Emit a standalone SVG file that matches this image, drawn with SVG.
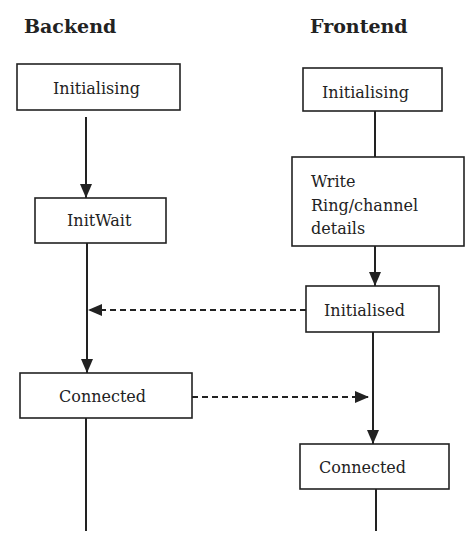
<svg xmlns="http://www.w3.org/2000/svg" width="474" height="549" viewBox="0 0 474 549">
<style>
.box{fill:#fff;stroke:#222;stroke-width:1.6}
.lbl{font-family:"DejaVu Serif","Liberation Serif",serif;font-size:16px;fill:#222}
.hdr{font-family:"DejaVu Serif","Liberation Serif",serif;font-size:19px;font-weight:bold;fill:#222}
.ln{stroke:#222;stroke-width:2;fill:none}
.dash{stroke:#222;stroke-width:2;fill:none;stroke-dasharray:6 4}
</style>
<defs>
<marker id="ah" markerUnits="userSpaceOnUse" markerWidth="14" markerHeight="14" viewBox="0 0 14 12" refX="14" refY="6" orient="auto">
<path d="M0,0 L14,6 L0,12 Z" fill="#222"/>
</marker>
</defs>
<rect width="474" height="549" fill="#fff"/>
<text class="hdr" x="24" y="33">Backend</text>
<text class="hdr" x="310" y="33">Frontend</text>
<g id="connectors">
<line class="ln" x1="86" y1="117" x2="86" y2="198" marker-end="url(#ah)"/>
<line class="ln" x1="87" y1="243" x2="87" y2="373" marker-end="url(#ah)"/>
<line class="ln" x1="375" y1="111" x2="375" y2="157"/>
<line class="ln" x1="375" y1="246" x2="375" y2="286" marker-end="url(#ah)"/>
<line class="dash" x1="306" y1="310" x2="88" y2="310" marker-end="url(#ah)"/>
<line class="ln" x1="373" y1="332" x2="373" y2="444" marker-end="url(#ah)"/>
<line class="dash" x1="192" y1="397" x2="369" y2="397" marker-end="url(#ah)"/>
<line class="ln" x1="86" y1="418" x2="86" y2="531"/>
<line class="ln" x1="376" y1="489" x2="376" y2="531"/>
</g>
<g id="be-init"><rect class="box" x="17" y="64" width="163" height="46"/><text class="lbl" x="53" y="94">Initialising</text></g>
<g id="be-initwait"><rect class="box" x="35" y="198" width="131" height="45"/><text class="lbl" x="67" y="226">InitWait</text></g>
<g id="be-connected"><rect class="box" x="20" y="373" width="172" height="45"/><text class="lbl" x="59" y="402">Connected</text></g>
<g id="fe-init"><rect class="box" x="303" y="68" width="139" height="43"/><text class="lbl" x="322" y="98">Initialising</text></g>
<g id="fe-write"><rect class="box" x="292" y="157" width="172" height="89"/><text class="lbl" x="311" y="187">Write</text><text class="lbl" x="311" y="211">Ring/channel</text><text class="lbl" x="311" y="234">details</text></g>
<g id="fe-initialised"><rect class="box" x="306" y="286" width="133" height="46"/><text class="lbl" x="324" y="316">Initialised</text></g>
<g id="fe-connected"><rect class="box" x="300" y="444" width="149" height="45"/><text class="lbl" x="319" y="473">Connected</text></g>
</svg>
